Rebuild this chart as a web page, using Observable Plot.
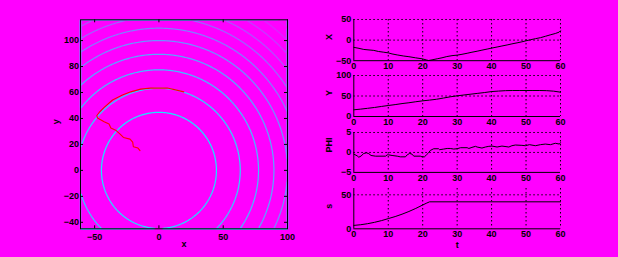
<!DOCTYPE html>
<html><head><meta charset="utf-8">
<script src="https://cdn.jsdelivr.net/npm/d3@7"></script>
<script src="https://cdn.jsdelivr.net/npm/@observablehq/plot@0.6"></script>
<style>
html,body{margin:0;padding:0;background:#ff00ff;}
#chart{position:relative;width:618px;height:257px;overflow:hidden;background:#ff00ff;}
</style></head><body><div id="chart"></div>
<script>
// ---- Left panel: contour levels of x^2+y^2 and the trajectory ----
const xDomain = [-61, 100];
const yDomain = [-45, 116];
const xTicks = [-50, 0, 50, 100];
const yTicks = [-40, -20, 0, 20, 40, 60, 80, 100];
const levels = [2000, 4000, 6000, 8000, 10000, 12000, 14000, 16000, 18000, 20000, 22000];
const zRange = [0, 23456];
const trajX = [-14.7,-16.3,-19.9,-20.4,-22.5,-27.6,-30.2,-33.6,-37.4,-38.8,-42.6,-47.8,-48.3,-46.5,-42.6,-36.1,-28.4,-21.9,-14.2,-6.4,6.5,12.9,19.4];
const trajY = [15.2,17.2,18.2,21.8,24.1,25.4,28,31,32.6,35.7,37.5,40.3,42.3,44.6,48.5,54.2,58,60.5,62.6,63.4,63.4,62,60.5];

// ---- Right panels: time series ----
const tDomain = [0, 60];
const tTicks = [0, 10, 20, 30, 40, 50, 60];
const tX = [0,1.5,2.9,5.8,7.2,8.7,10,11.1,12.6,14.5,16,17.9,19.8,21,21.7,22.7,24.2,25.6,27,28.5,30,31.4,32.9,34.3,35.8,37.2,38.7,40.1,41.6,43,44.5,45.9,47.4,48.8,50,51.3,52.7,54.2,55.6,57,58.5,59.6,60];
const valX = [-17.6,-20,-22.7,-25,-27.7,-29.4,-31,-33.6,-36,-38.7,-40.3,-43,-45.4,-48,-49.6,-48,-45.4,-43,-40,-37.8,-36.5,-34.5,-32,-29.4,-27,-24.4,-21.8,-19.3,-16.8,-14.3,-11.8,-9.2,-6.7,-4.2,-1.7,0.8,3.4,5.9,9.2,12.6,16,19.3,22.7];
const tY = [0,2,4,6,8,10,12,14,16,18,20,22,24,26,28,30,32,34,36,38,40,42,44,46,48,50,52,54,56,58,60];
const valY = [16.3,18,20,22,24.5,26.8,29,31.5,33.5,36,38.2,40,42,45,48,50.4,52.5,54.5,56.5,58.5,60.8,62,63,63.4,63.4,63.4,63.4,63.4,63,61.8,59.3];
const tPhi = [0,0.97,1.45,2.1,2.9,3.7,4.35,5,6.3,9.2,9.7,10.1,11.1,12.6,13.5,15,15.5,16.2,16.9,17.4,19.3,19.8,20.5,21.1,21.7,22.2,23.2,24.6,24.9,26.1,27.1,28,29,30,31,32.9,33.4,34.3,35.3,35.8,37.2,38.2,39.2,40.1,41.6,43,45,45.9,46.9,48.8,49.8,51,52.7,54.2,55.6,57.1,58.5,59.7,60];
const valPhi = [-0.42,-0.85,-1.2,-0.9,-0.25,-0.1,-0.3,-0.76,-0.93,-0.93,-0.6,-0.6,-0.76,-0.93,-1.1,-1.1,-0.6,-0.25,-0.42,-0.93,-0.93,-1.1,-1.1,-0.6,-0.1,0.5,0.93,0.93,0.68,0.85,1.0,1.0,0.85,0.93,1.19,1.19,1.0,1.27,1.53,1.36,1.1,1.36,1.53,1.6,1.36,1.6,1.36,1.69,1.86,1.78,1.69,1.95,1.69,1.95,2.1,1.95,2.3,2.1,2.45];
const tS = [0,2,4,6,8,10,12,14,16,18,20,21,22,30,40,50,60];
const valS = [5,6,7.5,9.5,12,15,18,21.5,25.5,30,35,37.5,39.7,39.7,39.7,39.7,39.7];

const panels = [
  {label: "X", t: tX, v: valX, domain: [-50, 50], ticks: [-50, 0, 50], grid: [0, 50], top: 19.3, h: 41.2},
  {label: "Y", t: tY, v: valY, domain: [0, 100], ticks: [0, 50, 100], grid: [50, 100], top: 75.3, h: 41},
  {label: "PHI", t: tPhi, v: valPhi, domain: [-5, 5], ticks: [-5, 0, 5], grid: [0, 5], top: 132.4, h: 39.9},
  {label: "s", t: tS, v: valS, domain: [0, 59.3], ticks: [0, 50], grid: [50], top: 188, h: 40.3}
];

const FONT = "'Liberation Sans', Arial, sans-serif";
const FS = 9;
const baseStyle = {background: "transparent", color: "black", fontFamily: FONT, fontSize: FS + "px", fontWeight: "bold", overflow: "visible"};
const chart = document.getElementById("chart");

// Left panel
const LM = {l: 80, r: 13, t: 19.3, b: 28.7};
const LW = 300, LH = 257;
const fw = LW - LM.l - LM.r, fh = LH - LM.t - LM.b;
const traj = trajX.map((x, i) => ({x, y: trajY[i]}));
const leftPlot = Plot.plot({
  width: LW, height: LH,
  marginLeft: LM.l, marginRight: LM.r, marginTop: LM.t, marginBottom: LM.b,
  style: baseStyle,
  x: {domain: xDomain, ticks: xTicks, tickSize: 0, tickPadding: 5, label: null},
  y: {domain: yDomain, ticks: yTicks, tickSize: 0, tickPadding: 1.5, label: null},
  color: {type: "linear", domain: zRange, range: ["#00ffff", "#ff00ff"], interpolate: "rgb"},
  marks: [
    Plot.contour({x1: xDomain[0], x2: xDomain[1], y1: yDomain[0], y2: yDomain[1],
      value: (x, y) => x * x + y * y, thresholds: levels, pixelSize: 1,
      stroke: "value", fill: "none", strokeWidth: 1.2}),
    Plot.line(traj, {x: "x", y: "y", stroke: "#ff0000", strokeWidth: 1.1}),
    Plot.frame({stroke: "black"}),
    Plot.tickX(xTicks, {x: d => d, insetTop: fh - 3, stroke: "black"}),
    Plot.tickX(xTicks, {x: d => d, insetBottom: fh - 3, stroke: "black"}),
    Plot.tickY(yTicks, {y: d => d, insetRight: fw - 3, stroke: "black"}),
    Plot.tickY(yTicks, {y: d => d, insetLeft: fw - 3, stroke: "black"}),
    Plot.text(["x"], {frameAnchor: "bottom", dy: 18, text: d => d, fontSize: FS, fontWeight: "bold"}),
    Plot.text(["y"], {frameAnchor: "left", dx: -24, rotate: -90, text: d => d, fontSize: FS, fontWeight: "bold"})
  ]
});
leftPlot.style.position = "absolute";
leftPlot.style.left = "0px";
leftPlot.style.top = "0px";
chart.appendChild(leftPlot);

// Right panels
panels.forEach((p, i) => {
  const last = i === panels.length - 1;
  const mt = 4, mb = last ? 30 : 13;
  const rows = p.t.map((t, j) => ({t, v: p.v[j]}));
  const svg = Plot.plot({
    width: 318, height: p.h + mt + mb,
    marginLeft: 53.3, marginRight: 58, marginTop: mt, marginBottom: mb,
    style: baseStyle,
    x: {domain: tDomain, ticks: tTicks, tickSize: 0, tickPadding: 2, label: null},
    y: {domain: p.domain, ticks: p.ticks, tickSize: 0, tickPadding: 2.5, label: null},
    marks: [
      Plot.ruleX(tTicks.filter(d => d > tDomain[0]), {x: d => d, stroke: "black", strokeDasharray: "1.5,2.5"}),
      Plot.ruleY(p.grid, {y: d => d, stroke: "black", strokeDasharray: "1.5,2.5"}),
      Plot.ruleX([tDomain[0]], {x: d => d, stroke: "black"}),
      Plot.ruleY([p.domain[0]], {y: d => d, stroke: "black"}),
      Plot.line(rows, {x: "t", y: "v", stroke: "black", strokeWidth: 1}),
      Plot.text([p.label], {frameAnchor: "left", dx: -25, rotate: -90, text: d => d, fontSize: FS, fontWeight: "bold"}),
      last ? Plot.text(["t"], {frameAnchor: "bottom", dy: 19, text: d => d, fontSize: FS, fontWeight: "bold"}) : null
    ]
  });
  svg.style.position = "absolute";
  svg.style.left = "300px";
  svg.style.top = (p.top - mt) + "px";
  chart.appendChild(svg);
});
</script>
</body></html>
